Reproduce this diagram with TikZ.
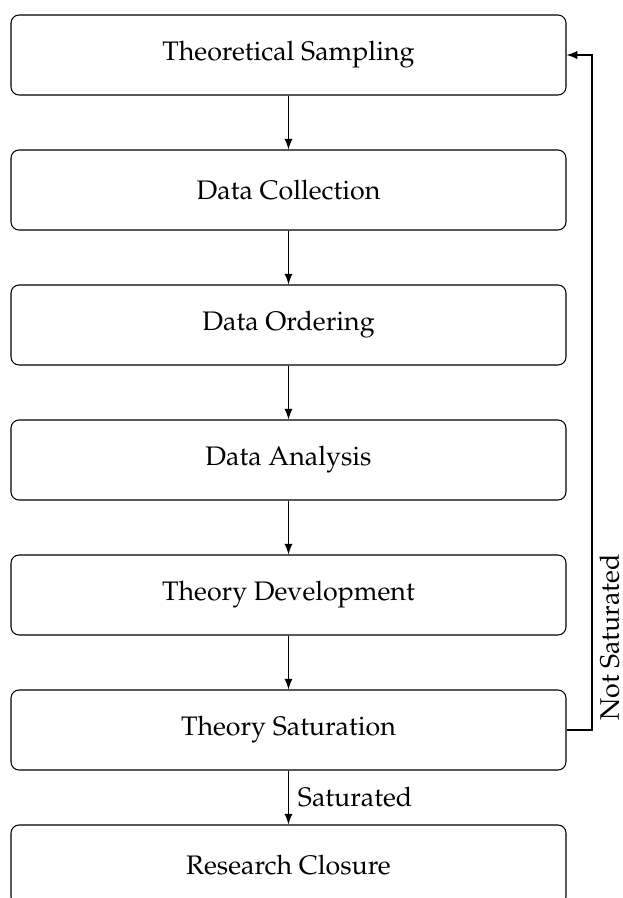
\documentclass[tikz,border=0pt]{standalone}
\usepackage[T1]{fontenc}
\usepackage{mathpazo}
\usetikzlibrary{arrows}
\newlength{\pxu}
\setlength{\pxu}{0.3731pt}
\begin{document}
\begin{tikzpicture}[x=\pxu,y=-\pxu,
  stepbox/.style={draw, rounded corners=3pt, minimum width=555\pxu, minimum height=80\pxu, inner sep=0pt, line width=0.4pt},
  conn/.style={-latex, line width=0.4pt}]
\useasboundingbox (0,0) rectangle (622,898);
\node[stepbox] (s1) at (288.5,55) {Theoretical Sampling};
\node[stepbox] (s2) at (288.5,190) {Data Collection};
\node[stepbox] (s3) at (288.5,325) {Data Ordering};
\node[stepbox] (s4) at (288.5,460) {Data Analysis};
\node[stepbox] (s5) at (288.5,595) {Theory Development};
\node[stepbox] (s6) at (288.5,730) {Theory Saturation};
\node[stepbox] (s7) at (288.5,865) {Research Closure};
\draw[conn] (s1.south) -- (s2.north);
\draw[conn] (s2.south) -- (s3.north);
\draw[conn] (s3.south) -- (s4.north);
\draw[conn] (s4.south) -- (s5.north);
\draw[conn] (s5.south) -- (s6.north);
\draw[conn] (s6.south) -- node[right] {Saturated} (s7.north);
\coordinate (c1) at (592,730);
\coordinate (c2) at (592,55);
\draw[conn] (s6.east) -- (c1) -- (c2) -- (s1.east);
\node[rotate=90, anchor=north, inner sep=0pt] (lbl) at (599,637.5) {Not Saturated};
\end{tikzpicture}
\end{document}
